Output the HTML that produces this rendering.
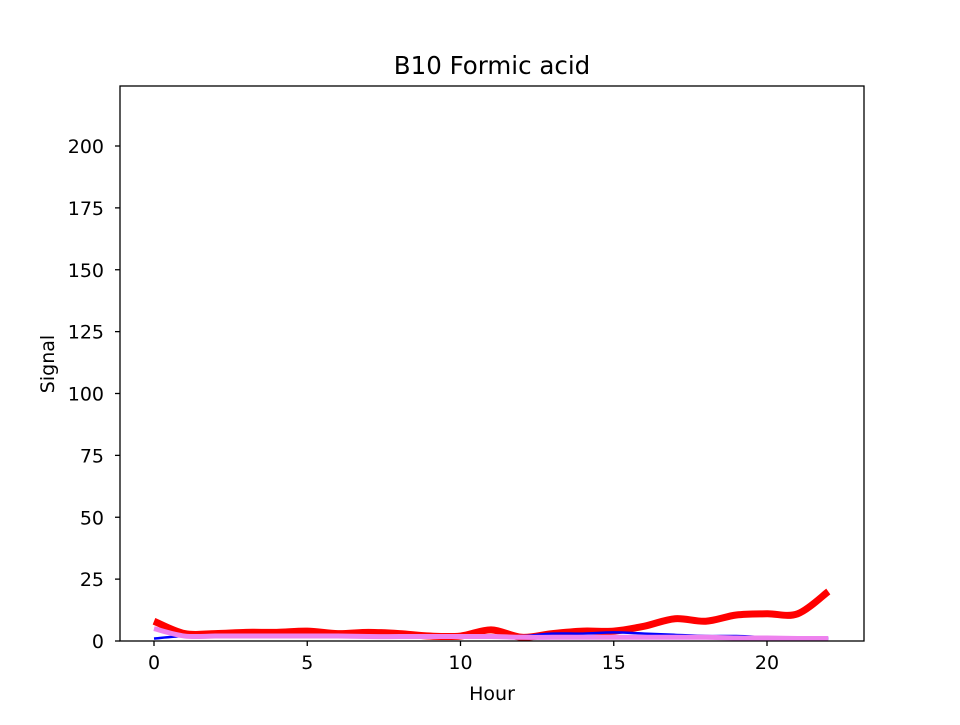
<!DOCTYPE html>
<html><head><meta charset="utf-8"><style>
body{margin:0;background:#fff;font-family:"Liberation Sans","DejaVu Sans",sans-serif}
svg text{font-family:"DejaVu Sans","Liberation Sans",sans-serif;font-size:19px;fill:#000}
</style></head><body>
<svg id="chart" width="960" height="720">
<rect width="960" height="720" fill="#fff"/>
<text x="492" y="74" text-anchor="middle" style="font-size:24.5px">B10 Formic acid</text>
<g id="plot"></g>
<rect x="120" y="86" width="744" height="555" fill="none" stroke="#000" stroke-width="1.3"/>
<g id="axes"></g>
<text x="492" y="700" text-anchor="middle">Hour</text>
<text x="0" y="0" transform="translate(54,364) rotate(-90)" text-anchor="middle">Signal</text>
</svg>
<script>
const hours=[0,1,2,3,4,5,6,7,8,9,10,11,12,13,14,15,16,17,18,19,20,21,22];
const redVals=[8,3,3,3.5,3.5,4,3,3.5,3,2,2,4.5,1.5,3,4,4,6,9,8,10.5,11,11,20];
const blueVals=[1,2,2,2,2,2,2,2,2,2,2,2,2,3,3,3.5,3,2.5,2,2,1.5,1,1];
const violetVals=[5,2,2,2,2,2,2,1.8,1.8,1.8,1.8,1.8,1.5,1.5,1.5,1.5,1.5,1.5,1.5,1.2,1.2,1,1];
const xTicks=[0,5,10,15,20];
const yTicks=[0,25,50,75,100,125,150,175,200];
const X=v=>154+(v)*30.65, Y=v=>641-v*2.475;
const NS="http://www.w3.org/2000/svg";
const plot=document.getElementById('plot'),axes=document.getElementById('axes');
function smooth(vals){let p=hours.map((h,i)=>[X(h),Y(vals[i])]);let d=`M${p[0][0]},${p[0][1]}`;
for(let i=0;i<p.length-1;i++){const p0=p[i-1]||p[i],p1=p[i],p2=p[i+1],p3=p[i+2]||p2;
d+=` C${p1[0]+(p2[0]-p0[0])/6},${p1[1]+(p2[1]-p0[1])/6} ${p2[0]-(p3[0]-p1[0])/6},${p2[1]-(p3[1]-p1[1])/6} ${p2[0]},${p2[1]}`;}return d;}
function line(vals,color,w,name){const el=document.createElementNS(NS,'path');el.setAttribute('d',smooth(vals));el.setAttribute('fill','none');el.setAttribute('stroke',color);el.setAttribute('stroke-width',w);


plot.appendChild(el);}
const cp=document.createElementNS(NS,'clipPath');cp.id='c';cp.innerHTML='<rect x="120" y="86" width="744" height="555"/>';plot.appendChild(cp);plot.setAttribute('clip-path','url(#c)');
line(redVals,'#ff0000',7,'red-series-line');
line(blueVals,'#0000ff',2.5,'blue-series-line');
line(violetVals,'#ee82ee',5,'violet-series-line');
xTicks.forEach(t=>{const g=document.createElementNS(NS,'g');


g.innerHTML=`<line x1="${X(t)}" x2="${X(t)}" y1="641" y2="646" stroke="#000" stroke-width="1.3"/><text x="${X(t)}" y="669" text-anchor="middle">${t}</text>`;axes.appendChild(g);});
yTicks.forEach(t=>{const g=document.createElementNS(NS,'g');


g.innerHTML=`<line x1="115" x2="120" y1="${Y(t)}" y2="${Y(t)}" stroke="#000" stroke-width="1.3"/><text x="104" y="${Y(t)+7}" text-anchor="end">${t}</text>`;axes.appendChild(g);});
</script>
</body></html>
